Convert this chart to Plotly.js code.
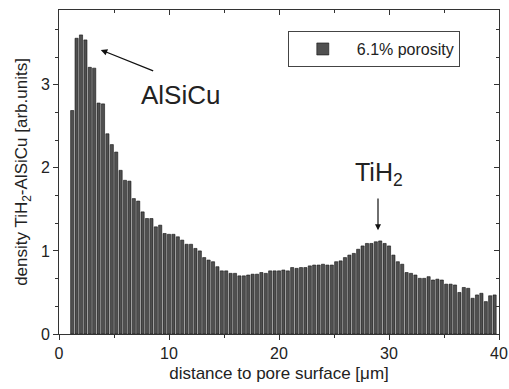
<!DOCTYPE html>
<html><head><meta charset="utf-8">
<script src="https://cdn.plot.ly/plotly-3.0.1.min.js"></script>
<style>html,body{margin:0;padding:0;background:#fff;}#chart{width:509px;height:389px;}</style>
</head><body><div id="chart"></div>
<script>
// bin centres (µm)
const binStart = 1.2;
const binWidth = 0.4;
const density = [
  2.69,3.56,3.60,3.54,3.21,3.20,2.78,2.77,2.41,2.28,
  2.19,1.97,1.85,1.84,1.63,1.60,1.47,1.39,1.39,1.29,
  1.31,1.21,1.20,1.20,1.17,1.13,1.08,1.08,1.03,1.00,
  0.92,0.89,0.87,0.81,0.76,0.76,0.73,0.73,0.70,0.70,
  0.71,0.72,0.72,0.74,0.73,0.76,0.76,0.76,0.77,0.76,
  0.80,0.79,0.80,0.80,0.82,0.83,0.83,0.84,0.83,0.83,
  0.87,0.88,0.92,0.95,0.97,1.02,1.06,1.09,1.09,1.11,
  1.12,1.09,1.06,0.95,0.87,0.84,0.74,0.73,0.71,0.67,
  0.67,0.69,0.65,0.66,0.65,0.60,0.60,0.59,0.50,0.56,
  0.55,0.43,0.47,0.49,0.39,0.46,0.47
];
const distance = density.map((_, i) => +(binStart + i * binWidth).toFixed(2));
const seriesName = '6.1% porosity';
const xTicks = [0, 10, 20, 30, 40];
const yTicks = [0, 1, 2, 3];

const font = {family: 'Liberation Sans, Arial, sans-serif', color: '#222'};
const f = s => Object.assign({size: s}, font);
const trace = {
  type: 'bar', x: distance, y: density, name: seriesName,
  marker: {color: '#505050', line: {color: '#111', width: 0.6}},
  width: binWidth * 0.72, showlegend: true
};
const layout = {
  width: 509, height: 389,
  margin: {l: 59, r: 10, t: 10, b: 55},
  paper_bgcolor: '#fff', plot_bgcolor: '#fff',
  font: f(15),
  showlegend: true,
  legend: {x: 0.52, y: 0.935, xanchor: 'left', yanchor: 'top', bgcolor: '#fff',
           bordercolor: '#444', borderwidth: 1, font: f(16), itemwidth: 58,
           tracegroupgap: 0},
  xaxis: {range: [0, 40], tickvals: xTicks, ticktext: xTicks.map(String),
          ticks: 'outside', ticklen: 5, tickcolor: '#333', showline: true, linecolor: '#333', linewidth: 1,
          mirror: true, showgrid: false, zeroline: false,
          minor: {dtick: 5, tick0: 0, ticks: 'outside', ticklen: 3, tickcolor: '#333'},
          tickfont: f(16),
          title: {text: 'distance to pore surface [μm]', font: f(17), standoff: 5}},
  yaxis: {range: [0, 3.9], tickvals: yTicks, ticktext: yTicks.map(String),
          ticks: 'outside', ticklen: 5, tickcolor: '#333', showline: true, linecolor: '#333', linewidth: 1,
          mirror: true, showgrid: false, zeroline: false,
          minor: {dtick: 1/3, tick0: 0, ticks: 'outside', ticklen: 3, tickcolor: '#333'},
          tickfont: f(16),
          title: {text: 'density TiH<sub>2</sub>-AlSiCu [arb.units]', font: f(17), standoff: 8}},
  xaxis2: {overlaying: 'x', side: 'top', range: [0, 40], tickvals: xTicks, showticklabels: false,
           ticks: 'inside', ticklen: 5, tickcolor: '#333', showgrid: false, zeroline: false,
           minor: {dtick: 5, tick0: 0, ticks: 'inside', ticklen: 3, tickcolor: '#333'}},
  yaxis2: {overlaying: 'y', side: 'right', range: [0, 3.9], tickvals: yTicks, showticklabels: false,
           ticks: 'inside', ticklen: 5, tickcolor: '#333', showgrid: false, zeroline: false,
           minor: {dtick: 1/3, tick0: 0, ticks: 'inside', ticklen: 3, tickcolor: '#333'}},
  annotations: [
    {x: 3.8, y: 3.42, ax: 8.7, ay: 3.16, axref: 'x', ayref: 'y', xref: 'x', yref: 'y',
     text: '', showarrow: true, arrowhead: 2, arrowsize: 1, arrowwidth: 1.3, arrowcolor: '#111'},
    {x: 11.0, y: 2.88, xref: 'x', yref: 'y', text: 'AlSiCu', showarrow: false, font: f(26)},
    {x: 29.0, y: 1.25, ax: 29.0, ay: 1.65, axref: 'x', ayref: 'y', xref: 'x', yref: 'y',
     text: '', showarrow: true, arrowhead: 2, arrowsize: 1, arrowwidth: 1.2, arrowcolor: '#111'},
    {x: 29.1, y: 1.93, xref: 'x', yref: 'y', text: 'TiH<sub>2</sub>', showarrow: false, font: f(25)}
  ],
  bargap: 0.28
};
Plotly.newPlot('chart', [trace, {type: 'scatter', x: [], y: [], xaxis: 'x2', yaxis: 'y2', showlegend: false, hoverinfo: 'skip'}], layout, {displayModeBar: false, staticPlot: true});
</script></body></html>
